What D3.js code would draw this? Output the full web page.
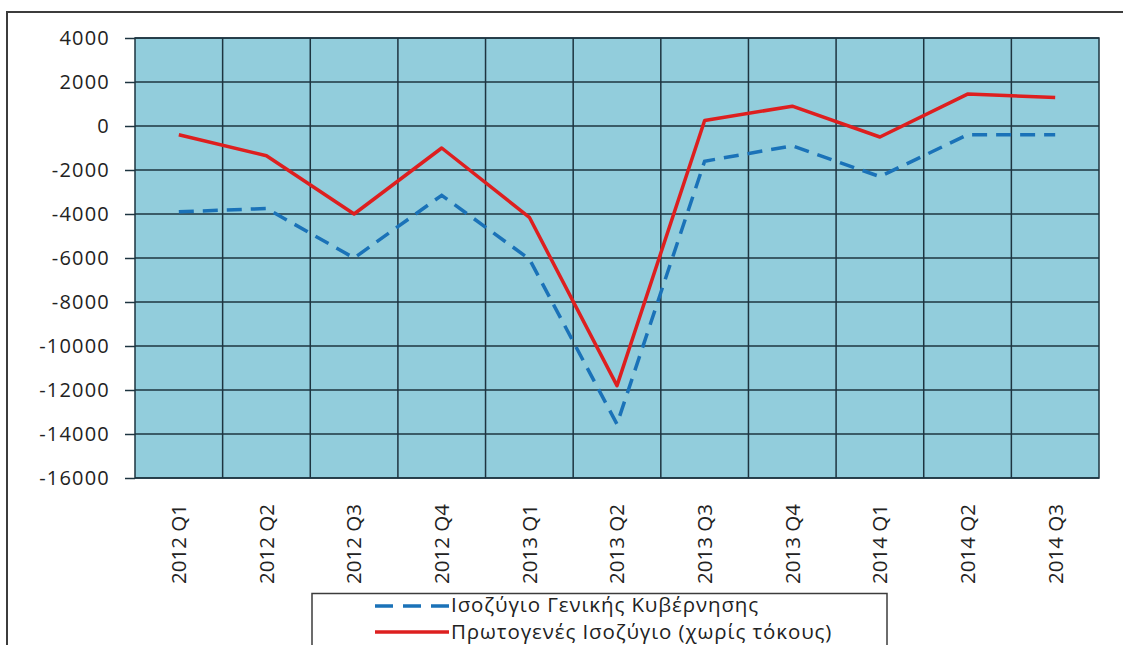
<!DOCTYPE html>
<html>
<head>
<meta charset="utf-8">
<script src="https://cdn.jsdelivr.net/npm/d3@7"></script>
<style>
  html, body { margin: 0; padding: 0; background: #ffffff; }
  svg { display: block; }
  text { font-family: "Open Sans", "DejaVu Sans", sans-serif; fill: #222; }
</style>
</head>
<body>
<svg id="chart" width="1123" height="645"></svg>
<script>
// Quarterly balances (million EUR)
const categories = ["2012 Q1", "2012 Q2", "2012 Q3", "2012 Q4", "2013 Q1", "2013 Q2",
                    "2013 Q3", "2013 Q4", "2014 Q1", "2014 Q2", "2014 Q3"];
const generalBalance = [-3900, -3750, -6000, -3150, -6050, -13550, -1600, -900, -2300, -400, -400];
const primaryBalance = [-400, -1350, -4000, -1000, -4150, -11800, 250, 900, -500, 1450, 1300];
const yTicks = [4000, 2000, 0, -2000, -4000, -6000, -8000, -10000, -12000, -14000, -16000];
const seriesNames = ["Ισοζύγιο Γενικής Κυβέρνησης", "Πρωτογενές Ισοζύγιο (χωρίς τόκους)"];

const svg = d3.select("#chart");
const plot = { left: 135, right: 1099, top: 38, bottom: 478 };

// outer chart frame (cut off at the right and bottom)
svg.append("path")
  .attr("d", "M7,645 V12 H1123")
  .attr("fill", "none")
  .attr("stroke", "#3c3c3c")
  .attr("stroke-width", 2);

const x = d3.scaleBand().domain(categories).range([plot.left, plot.right]).padding(0);
const y = d3.scaleLinear().domain([-16000, 4000]).range([plot.bottom, plot.top]);
const cx = d => x(d) + x.bandwidth() / 2;

// plot background
svg.append("rect")
  .attr("x", plot.left).attr("y", plot.top)
  .attr("width", plot.right - plot.left).attr("height", plot.bottom - plot.top)
  .attr("fill", "#92CDDC");

const gridColor = "#1d3440";
// horizontal grid
svg.append("g").selectAll("line").data(yTicks).join("line")
  .attr("x1", plot.left).attr("x2", plot.right)
  .attr("y1", d => y(d)).attr("y2", d => y(d))
  .attr("stroke", gridColor).attr("stroke-width", 1.5);
// vertical grid at category boundaries
svg.append("g").selectAll("line").data(categories.slice(1)).join("line")
  .attr("x1", d => x(d)).attr("x2", d => x(d))
  .attr("y1", plot.top).attr("y2", plot.bottom)
  .attr("stroke", gridColor).attr("stroke-width", 1.5);

// plot border
svg.append("rect")
  .attr("x", plot.left).attr("y", plot.top)
  .attr("width", plot.right - plot.left).attr("height", plot.bottom - plot.top)
  .attr("fill", "none").attr("stroke", gridColor).attr("stroke-width", 1.5);

// y axis (plain hyphen for negatives)
const yAxis = svg.append("g")
  .attr("transform", `translate(${plot.left},0)`)
  .call(d3.axisLeft(y).tickValues(yTicks).tickSize(10).tickPadding(15).tickFormat(d => String(d)));
yAxis.select(".domain").remove();
yAxis.selectAll(".tick line").attr("stroke", gridColor).attr("stroke-width", 1.5);
yAxis.selectAll(".tick text")
  .style("font-family", "'Open Sans', sans-serif")
  .style("font-size", "20px")
  .style("letter-spacing", "1.2px")
  .attr("fill", "#222");

// rotated category labels
svg.append("g").selectAll("text").data(categories).join("text")
  .attr("transform", d => `translate(${cx(d)},504) rotate(-90)`)
  .attr("text-anchor", "end")
  .attr("dy", "0.36em")
  .style("font-size", "20.5px")
  .text(d => d);

// series lines
const line = d3.line().x((d, i) => cx(categories[i])).y(d => y(d));
svg.append("path").datum(generalBalance)
  .attr("d", line)
  .attr("fill", "none")
  .attr("stroke", "#1a72b8")
  .attr("stroke-width", 3.5)
  .attr("stroke-dasharray", "15,9");
svg.append("path").datum(primaryBalance)
  .attr("d", line)
  .attr("fill", "none")
  .attr("stroke", "#dd1f1f")
  .attr("stroke-width", 3.5)
  .attr("stroke-linejoin", "round");

// legend
const legend = svg.append("g");
legend.append("rect")
  .attr("x", 312).attr("y", 593.5)
  .attr("width", 575).attr("height", 70)
  .attr("fill", "#ffffff").attr("stroke", "#3c3c3c").attr("stroke-width", 1.5);
const legendItems = [
  { name: seriesNames[0], color: "#1a72b8", dash: "18,10", ly: 606, ty: 612 },
  { name: seriesNames[1], color: "#dd1f1f", dash: null, ly: 632, ty: 639 }
];
legendItems.forEach(it => {
  legend.append("line")
    .attr("x1", 375).attr("x2", 449)
    .attr("y1", it.ly).attr("y2", it.ly)
    .attr("stroke", it.color).attr("stroke-width", 3.5)
    .attr("stroke-dasharray", it.dash);
  legend.append("text")
    .attr("x", 451).attr("y", it.ty)
    .style("font-size", "20.5px")
    .style("letter-spacing", "0.9px")
    .text(it.name);
});
</script>
</body>
</html>
